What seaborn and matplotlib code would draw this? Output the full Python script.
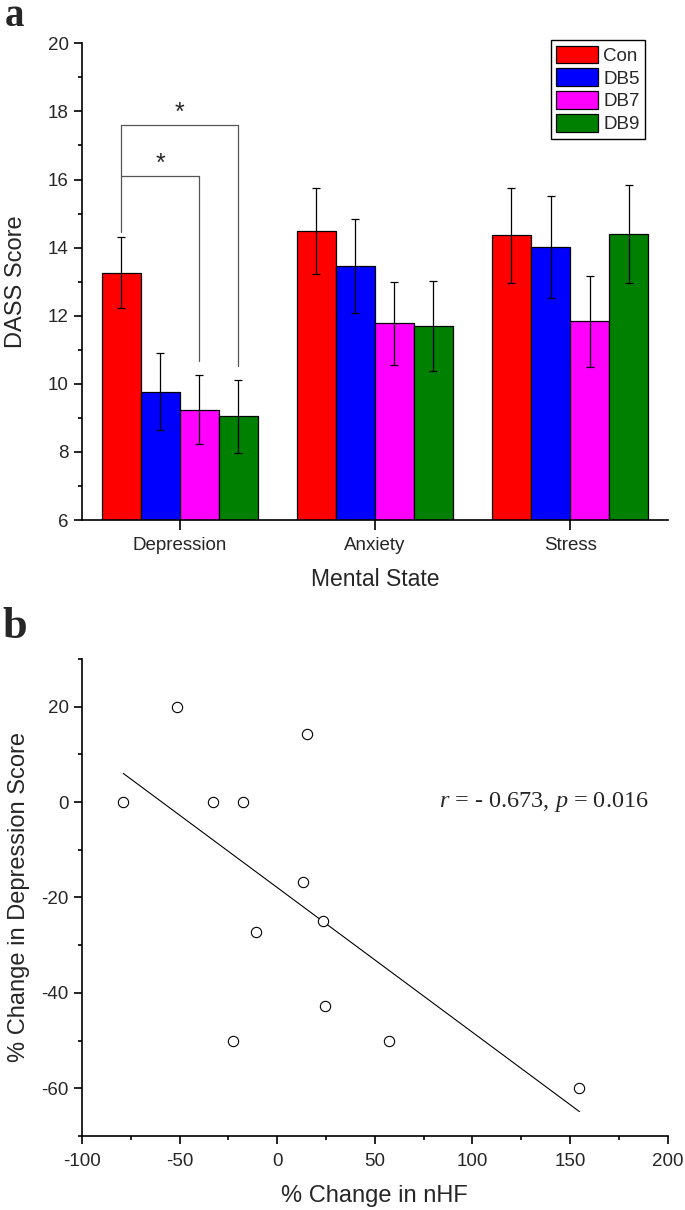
import numpy as np
import pandas as pd
import matplotlib
matplotlib.use('Agg')
import matplotlib.pyplot as plt
from matplotlib.ticker import MultipleLocator
import seaborn as sns

# ---------------- dados painel a ----------------
states = ['Depression', 'Anxiety', 'Stress']
groups = ['Con', 'DB5', 'DB7', 'DB9']
con_mean = [13.26, 14.48, 14.36]
db5_mean = [9.77, 13.47, 14.02]
db7_mean = [9.24, 11.78, 11.84]
db9_mean = [9.05, 11.69, 14.41]
con_err = [1.04, 1.26, 1.40]
db5_err = [1.13, 1.38, 1.50]
db7_err = [1.01, 1.22, 1.34]
db9_err = [1.07, 1.32, 1.44]
bar_colors = ['#ff0000', '#0000ff', '#ff00ff', '#008000']

# ---------------- dados painel b ----------------
nhf_change = [-78.9, -51.4, -33.0, -17.3, 15.2, 13.4, 23.2, -11.0, 24.4, -22.9, 57.5, 154.8]
dep_change = [0, 20, 0, 0, 14.3, -16.7, -25.0, -27.3, -42.8, -50, -50, -60]

sns.set_theme(style='ticks')
plt.rcParams['font.family'] = ['Liberation Sans', 'DejaVu Sans']
plt.rcParams['mathtext.fontset'] = 'custom'
plt.rcParams['mathtext.rm'] = 'Liberation Serif'
plt.rcParams['mathtext.it'] = 'Liberation Serif:italic'
plt.rcParams['axes.linewidth'] = 1.2
plt.rcParams['axes.edgecolor'] = 'black'
plt.rcParams['axes.unicode_minus'] = False

fig = plt.figure(figsize=(6.85, 12.10), dpi=100)
ax1 = fig.add_axes([0.1197, 0.5702, 0.855, 0.394])
ax2 = fig.add_axes([0.1197, 0.0612, 0.855, 0.3942])

# ---------------------- GRÁFICO DE BARRAS ----------------------
means = [con_mean, db5_mean, db7_mean, db9_mean]
errs = [con_err, db5_err, db7_err, db9_err]
df_bar = pd.DataFrame([
    {'Mental State': s, 'Group': g, 'Score': m[i], 'Err': e[i]}
    for g, m, e in zip(groups, means, errs) for i, s in enumerate(states)
])
sns.barplot(data=df_bar, x='Mental State', y='Score', hue='Group', order=states,
            hue_order=groups, palette=bar_colors, saturation=1, errorbar=None,
            edgecolor='black', linewidth=0.9, ax=ax1)
handles, labels = ax1.get_legend_handles_labels()
bar_conts = list(ax1.containers)

for cont, g in zip(bar_conts, groups):
    xs = [b.get_x() + b.get_width() / 2 for b in cont]
    sub = df_bar[df_bar['Group'] == g]
    ax1.errorbar(xs, sub['Score'], yerr=sub['Err'], fmt='none', ecolor='black',
                 elinewidth=0.9, capsize=3, capthick=0.9)

# colchetes de significância
dep_x = [cont[0].get_x() + cont[0].get_width() / 2 for cont in bar_conts]
ax1.plot([dep_x[0], dep_x[0], dep_x[3], dep_x[3]], [14.46, 17.61, 17.61, 10.53],
         color='#555555', lw=0.9)
ax1.plot([dep_x[0], dep_x[2], dep_x[2]], [16.1, 16.1, 10.67], color='#555555', lw=0.9)
ax1.text((dep_x[0] + dep_x[3]) / 2, 17.97, '*', ha='center', va='center', fontsize=18)
ax1.text((dep_x[0] + dep_x[2]) / 2, 16.47, '*', ha='center', va='center', fontsize=18)

ax1.set_ylim(6, 20)
ax1.set_xlim(-0.5, 2.5)
ax1.yaxis.set_major_locator(MultipleLocator(2))
ax1.yaxis.set_minor_locator(MultipleLocator(1))
ax1.tick_params(which='major', length=6, width=1.2, labelsize=13.5, color='black')
ax1.tick_params(which='minor', length=3, width=1.2, color='black')
ax1.tick_params(axis='x', length=7, pad=5)
ax1.set_xlabel('Mental State', fontsize=16.5, labelpad=10)
ax1.set_ylabel('DASS Score', fontsize=17, labelpad=15)
sns.despine(ax=ax1)
ax1.legend(handles, labels, loc='upper right', bbox_to_anchor=(0.962, 1.007),
           fontsize=13.5, frameon=True, fancybox=False, edgecolor='black',
           framealpha=1, handlelength=2.2, handleheight=1.05, labelspacing=0.2,
           borderpad=0.3, handletextpad=0.3, borderaxespad=0)

# ---------------------- GRÁFICO DE DISPERSÃO ----------------------
df_sc = pd.DataFrame({'nHF': nhf_change, 'Dep': dep_change})
sns.regplot(data=df_sc, x='nHF', y='Dep', ci=None, truncate=True, scatter=False,
            line_kws={'color': 'black', 'lw': 0.8}, ax=ax2)
sns.scatterplot(data=df_sc, x='nHF', y='Dep', marker='o', s=55, facecolor='white',
                edgecolor='black', linewidth=0.8, ax=ax2, zorder=3)
ax2.text(83, 0, r'$r$ = - 0.673, $p$ = 0.016', fontsize=17.5, va='center',
         family='Liberation Serif')

ax2.set_xlim(-100, 200)
ax2.set_ylim(-70, 30)
ax2.xaxis.set_major_locator(MultipleLocator(50))
ax2.xaxis.set_minor_locator(MultipleLocator(25))
ax2.yaxis.set_major_locator(MultipleLocator(20))
ax2.yaxis.set_minor_locator(MultipleLocator(10))
ax2.tick_params(which='major', length=6, width=1.2, labelsize=13.5, color='black')
ax2.tick_params(which='minor', length=3, width=1.2, color='black')
ax2.tick_params(axis='x', pad=6)
ax2.set_xlabel('% Change in nHF', fontsize=17, labelpad=11)
ax2.set_ylabel('% Change in Depression Score', fontsize=17, labelpad=8)
sns.despine(ax=ax2)

fig.text(0.007, 0.9785, 'a', fontsize=28, fontweight='bold', family='Liberation Serif')
fig.text(0.004, 0.473, 'b', fontsize=32, fontweight='bold', family='Liberation Serif')

fig.savefig('out.png', dpi=100)
